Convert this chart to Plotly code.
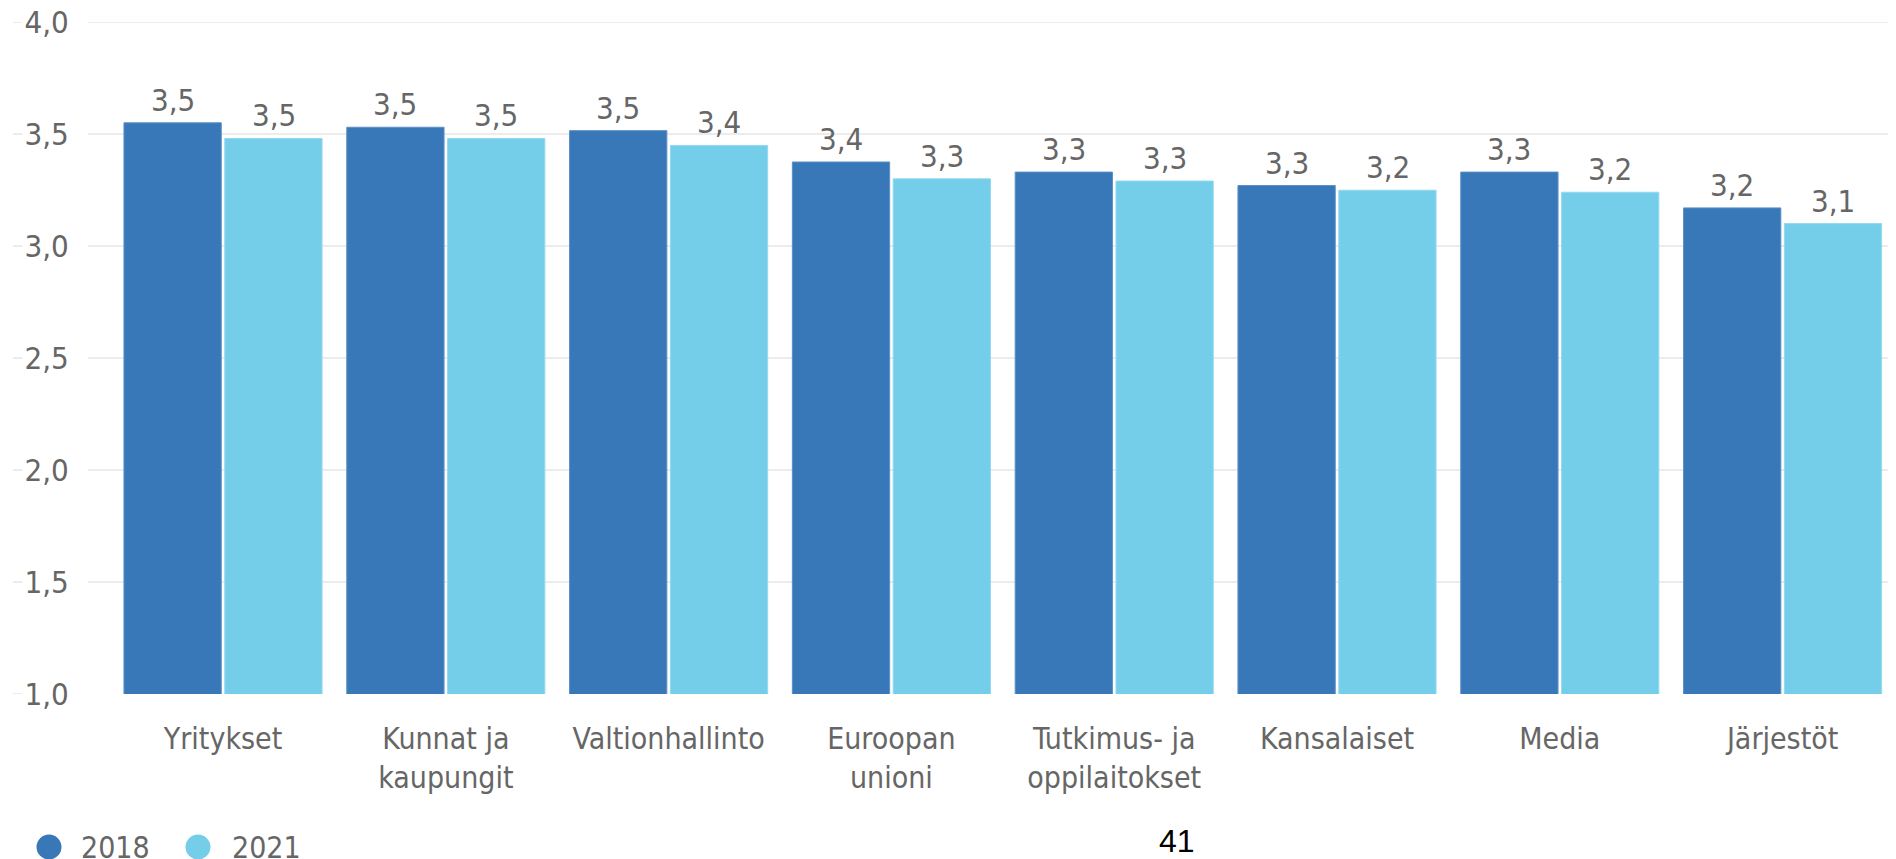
import plotly.graph_objects as go

# categories and values
categories = ['Yritykset', 'Kunnat ja<br>kaupungit', 'Valtionhallinto', 'Euroopan<br>unioni',
              'Tutkimus- ja<br>oppilaitokset', 'Kansalaiset', 'Media', 'Järjestöt']
values_2018 = [3.55, 3.53, 3.515, 3.375, 3.33, 3.27, 3.33, 3.17]
values_2021 = [3.48, 3.48, 3.449, 3.30, 3.29, 3.249, 3.24, 3.10]
y_ticks = [1.0, 1.5, 2.0, 2.5, 3.0, 3.5, 4.0]
series = [('2018', values_2018, '#3878b8', '#5b90c6'),
          ('2021', values_2021, '#75cee9', '#93d9ef')]

grey = '#666666'
font_fam = 'DejaVu Sans Condensed, Noto Sans, sans-serif'

fig = go.Figure()
for name, vals, col, edge in series:
    fig.add_trace(go.Bar(x=categories, y=vals, name=name, marker_color=col,
                         marker_line=dict(color=edge, width=1), showlegend=False))

# value labels above the bars (comma decimal)
for k, (name, vals, col, edge) in enumerate(series):
    for cat, v in zip(categories, vals):
        fig.add_annotation(x=cat, y=v, text=f'{v:.1f}'.replace('.', ','), showarrow=False,
                           xshift=-50.5 if k == 0 else 50.5, yanchor='bottom', yshift=3,
                           font=dict(size=31, color=grey))

# little dashes left of the y tick labels, and the top grid line
for t in y_ticks:
    fig.add_shape(type='line', xref='paper', yref='y', x0=-0.0415, x1=-0.0365, y0=t, y1=t,
                  line=dict(color='#ececec', width=2))
fig.add_shape(type='line', xref='paper', yref='y', x0=0, x1=1, y0=y_ticks[-1], y1=y_ticks[-1],
              line=dict(color='#ececec', width=2), layer='below')

# legend drawn as round markers with text
legend_pos = [(-0.0216, -0.005), (0.0609, 0.0786)]
for (name, vals, col, edge), (cx, tx) in zip(series, legend_pos):
    fig.add_shape(type='circle', xref='paper', yref='paper', xsizemode='pixel', ysizemode='pixel',
                  xanchor=cx, yanchor=-0.2277, x0=-12.5, x1=12.5, y0=-12.5, y1=12.5,
                  fillcolor=col, line=dict(width=0))
    fig.add_annotation(text=name, xref='paper', yref='paper', x=tx, y=-0.2277, xanchor='left',
                       yanchor='middle', showarrow=False, font=dict(size=30, color=grey))

fig.add_annotation(text='41', xref='paper', yref='paper', x=0.603, y=-0.219,
                   xanchor='center', yanchor='middle', showarrow=False,
                   font=dict(family='Liberation Sans, Arial', size=32, color='black'))

fig.update_layout(
    width=1888, height=859,
    margin=dict(l=80, r=2, t=14, b=173),
    plot_bgcolor='white', paper_bgcolor='white',
    separators=', ',
    font=dict(family=font_fam, size=30, color=grey),
    barmode='group', bargap=0.095, bargroupgap=0.035,
    showlegend=False,
    xaxis=dict(range=[-0.606, 7.5], showgrid=False, ticks='outside', ticklen=18,
               tickcolor='rgba(0,0,0,0)', automargin=False,
               tickfont=dict(size=30, color=grey)),
    yaxis=dict(range=[1, 4], tickvals=y_ticks, tickformat='.1f', showgrid=True,
               gridcolor='#ececec', gridwidth=2, zeroline=False, ticks='outside',
               ticklen=12, tickcolor='rgba(0,0,0,0)', ticklabeloverflow='allow',
               automargin=False, tickfont=dict(size=31, color=grey)),
)

fig.write_html('out.html')
